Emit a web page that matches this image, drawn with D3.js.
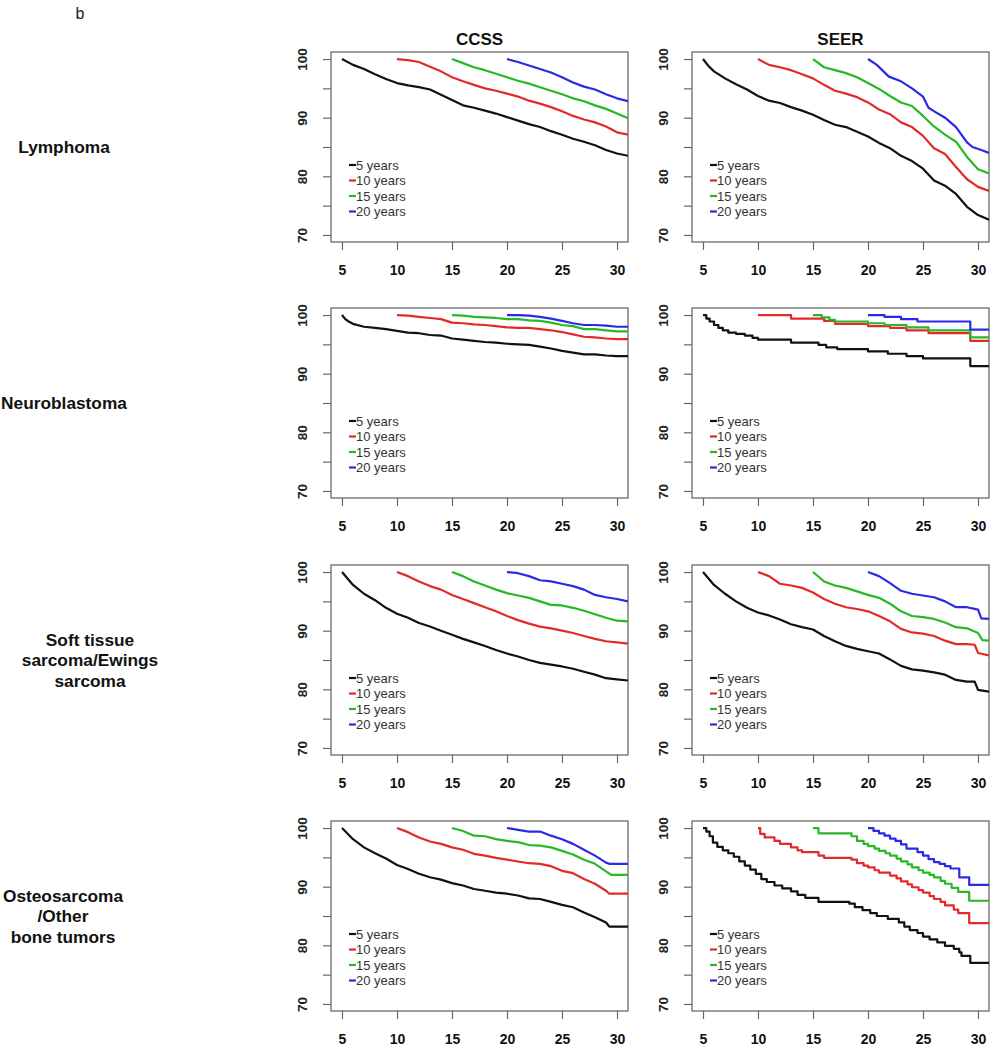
<!DOCTYPE html>
<html><head><meta charset="utf-8">
<script src="https://cdn.jsdelivr.net/npm/d3@7"></script>
<style>body{margin:0;background:#fff}svg{display:block}</style>
</head><body>
<script>
// ---------- data ----------
const panelLetter = "b";
const colTitles = ["CCSS", "SEER"];
const rowLabels = [["Lymphoma"], ["Neuroblastoma"], ["Soft tissue", "sarcoma/Ewings", "sarcoma"], ["Osteosarcoma", "/Other", "bone tumors"]];
const seriesNames = ["5 years", "10 years", "15 years", "20 years"];
const seriesColors = ["#111111", "#e32a2a", "#26b826", "#2a2ae6"];
const xTicks = [5, 10, 15, 20, 25, 30];
const yTicks = [70, 75, 80, 85, 90, 95, 100];
const yTickLabels = [70, 80, 90, 100];

const lymCCSS = [
 [[5,100],[6,99.0],[7,98.3],[8,97.4],[9,96.6],[10,95.9],[11,95.5],[12,95.2],[13,94.8],[14,93.9],[15,93.0],[16,92.1],[17,91.7],[18,91.2],[19,90.7],[20,90.1],[21,89.5],[22,88.9],[23,88.4],[24,87.7],[25,87.1],[26,86.4],[27,85.9],[28,85.3],[29,84.5],[30,83.9],[31,83.5]],
 [[10,100],[11,99.8],[12,99.5],[13,98.7],[14,97.9],[15,96.9],[16,96.2],[17,95.6],[18,95.0],[19,94.6],[20,94.1],[21,93.6],[22,92.9],[23,92.4],[24,91.8],[25,91.1],[26,90.3],[27,89.7],[28,89.2],[29,88.5],[30,87.5],[31,87.1]],
 [[15,100],[16,99.3],[17,98.6],[18,98.1],[19,97.5],[20,96.9],[21,96.3],[22,95.8],[23,95.2],[24,94.6],[25,94.0],[26,93.3],[27,92.8],[28,92.1],[29,91.5],[30,90.7],[31,89.9]],
 [[20,100],[21,99.5],[22,98.9],[23,98.3],[24,97.7],[25,96.9],[26,96.0],[27,95.3],[28,94.8],[29,94.0],[30,93.3],[31,92.8]]
];
const lymSEER = [
 [[5,100],[5.5,98.8],[6,97.9],[7,96.7],[8,95.7],[9,94.8],[10,93.7],[11,92.9],[12,92.5],[13,91.8],[14,91.2],[15,90.5],[16,89.6],[17,88.8],[18,88.4],[19,87.6],[20,86.8],[21,85.7],[22,84.8],[23,83.5],[24,82.6],[25,81.3],[26,79.3],[27,78.4],[28,77.0],[29,74.8],[30,73.4],[31,72.6]],
 [[10,100],[11,99.0],[12,98.6],[13,98.1],[14,97.4],[15,96.7],[16,95.6],[17,94.6],[18,94.1],[19,93.5],[20,92.6],[21,91.4],[22,90.6],[23,89.2],[24,88.4],[25,86.9],[26,84.8],[27,83.8],[28,81.6],[29,79.5],[30,78.2],[31,77.5]],
 [[15,100],[16,98.6],[17,98.1],[18,97.6],[19,96.9],[20,95.9],[21,94.9],[22,93.7],[23,92.6],[24,92.0],[25,90.3],[26,88.5],[27,87.1],[28,85.9],[29,83.3],[30,81.2],[31,80.5]],
 [[20,100],[20.8,99.0],[21.9,97.0],[23,96.2],[24,95.0],[25,93.6],[25.5,91.7],[26.1,91.0],[27,90.0],[28,88.4],[29,85.8],[29.5,85.0],[30.3,84.5],[31,84.0]]
];
const neuCCSS = [
 [[5,100],[5.3,99.3],[5.6,98.9],[6,98.5],[7,98.0],[8,97.8],[9,97.6],[10,97.3],[11,97.0],[12,96.9],[13,96.6],[14,96.5],[15,96.0],[16,95.8],[17,95.6],[18,95.4],[19,95.3],[20,95.1],[21,95.0],[22,94.9],[23,94.6],[24,94.3],[25,93.9],[26,93.6],[27,93.3],[28,93.3],[29,93.1],[30,93.0],[31,93.0]],
 [[10,100],[11,99.9],[12,99.7],[13,99.5],[14,99.3],[15,98.7],[16,98.6],[17,98.4],[18,98.3],[19,98.1],[20,97.9],[21,97.8],[22,97.8],[23,97.6],[24,97.4],[25,97.1],[26,96.7],[27,96.3],[28,96.2],[29,96.0],[30,95.9],[31,95.9]],
 [[15,100],[16,99.9],[17,99.7],[18,99.6],[19,99.5],[20,99.3],[21,99.3],[22,99.1],[23,99.0],[24,98.7],[25,98.3],[26,98.1],[27,97.6],[28,97.6],[29,97.4],[30,97.2],[31,97.2]],
 [[20,100],[21,100],[22,99.9],[23,99.7],[24,99.4],[25,99.0],[26,98.6],[27,98.3],[28,98.3],[29,98.2],[30,98.0],[31,98.0]]
];
const neuSEER = [
 [[5,100],[5.3,99.4],[5.6,98.9],[6,98.3],[6.4,97.8],[6.8,97.4],[7.3,97.0],[8,96.8],[8.8,96.5],[9.5,96.1],[10,95.8],[13,95.3],[15.5,94.9],[16.2,94.5],[17.2,94.2],[20,93.8],[21.8,93.4],[23.5,93.0],[25,92.6],[29.3,91.3],[31,91.3]],
 [[10,100],[13,99.4],[16,99.0],[17,98.5],[20,98.1],[22,97.8],[23.5,97.4],[25.5,96.9],[29.3,95.6],[31,95.6]],
 [[15,100],[15.8,99.6],[16.5,99.2],[17,98.9],[20,98.6],[21.5,98.3],[23.5,97.9],[25.5,97.4],[29.3,96.2],[31,96.2]],
 [[20,100],[21.5,99.7],[23,99.3],[24.5,98.9],[29.3,97.5],[31,97.5]]
];
const stsCCSS = [
 [[5,100],[6,97.8],[7,96.3],[8,95.2],[9,93.9],[10,92.9],[11,92.2],[12,91.3],[13,90.7],[14,90.0],[15,89.3],[16,88.6],[17,88.0],[18,87.4],[19,86.7],[20,86.1],[21,85.6],[22,85.0],[23,84.5],[24,84.2],[25,83.9],[26,83.5],[27,83.0],[28,82.5],[29,81.9],[30,81.7],[31,81.5]],
 [[10,100],[11,99.3],[12,98.4],[13,97.6],[14,97.0],[15,96.1],[16,95.4],[17,94.7],[18,94.0],[19,93.3],[20,92.5],[21,91.8],[22,91.2],[23,90.7],[24,90.4],[25,90.0],[26,89.6],[27,89.1],[28,88.6],[29,88.2],[30,88.0],[31,87.8]],
 [[15,100],[16,99.3],[17,98.4],[18,97.7],[19,97.0],[20,96.4],[21,96.0],[22,95.6],[23,95.0],[24,94.4],[25,94.3],[26,93.9],[27,93.4],[28,92.8],[29,92.2],[30,91.7],[31,91.6]],
 [[20,100],[21,99.8],[22,99.3],[23,98.6],[24,98.4],[25,98.0],[26,97.6],[27,97.0],[28,96.1],[29,95.7],[30,95.4],[31,95.0]]
];
const stsSEER = [
 [[5,100],[6,97.8],[7,96.3],[8,95.0],[9,93.9],[10,93.1],[11,92.6],[12,91.9],[13,91.1],[14,90.6],[15,90.2],[16,89.1],[17,88.2],[18,87.4],[19,86.9],[20,86.5],[21,86.1],[22,85.1],[23,84.0],[24,83.4],[25,83.2],[26,82.9],[27,82.5],[28,81.6],[29,81.3],[29.7,81.3],[30,79.9],[31,79.6]],
 [[10,100],[11,99.3],[12,98.0],[13,97.7],[14,97.3],[15,96.5],[16,95.4],[17,94.6],[18,94.0],[19,93.7],[20,93.3],[21,92.5],[22,91.6],[23,90.3],[24,89.7],[25,89.5],[26,89.1],[27,88.3],[28,87.7],[29,87.7],[29.7,87.6],[30,86.2],[31,85.8]],
 [[15,100],[16,98.4],[17,97.7],[18,97.3],[19,96.7],[20,96.1],[21,95.6],[22,94.6],[23,93.3],[24,92.5],[25,92.3],[26,92.0],[27,91.4],[28,90.6],[29,90.4],[30,89.6],[30.4,88.4],[31,88.3]],
 [[20,100],[21,99.3],[22,98.1],[23,96.8],[24,96.3],[25,96.0],[26,95.7],[27,95.0],[28,94.0],[29,94.0],[30,93.6],[30.3,92.1],[31,92.0]]
];
const ostCCSS = [
 [[5,100],[6,98.1],[7,96.7],[8,95.7],[9,94.8],[10,93.7],[11,93.0],[12,92.2],[13,91.6],[14,91.2],[15,90.6],[16,90.2],[17,89.6],[18,89.3],[19,89.0],[20,88.8],[21,88.5],[22,88.0],[23,87.9],[24,87.4],[25,86.9],[26,86.5],[27,85.6],[28,84.8],[29,83.9],[29.3,83.2],[31,83.2]],
 [[10,100],[11,99.3],[12,98.4],[13,97.7],[14,97.3],[15,96.7],[16,96.3],[17,95.6],[18,95.3],[19,94.9],[20,94.6],[21,94.3],[22,94.0],[23,93.9],[24,93.5],[25,92.7],[26,92.3],[27,91.3],[28,90.5],[29,89.3],[29.3,88.8],[31,88.8]],
 [[15,100],[16,99.5],[17,98.7],[18,98.6],[19,98.1],[20,97.8],[21,97.6],[22,97.1],[23,97.0],[24,96.7],[25,96.1],[26,95.5],[27,94.6],[28,93.9],[29,92.6],[29.5,92.0],[31,92.0]],
 [[20,100],[21,99.7],[22,99.4],[23,99.4],[24,98.7],[25,98.1],[26,97.3],[27,96.3],[28,95.3],[29,94.1],[29.3,93.9],[31,93.9]]
];
const ostSEER = [
 [[5,100],[5.3,99.4],[5.6,98.6],[5.9,97.5],[6.3,96.8],[6.8,96.2],[7.3,95.7],[7.8,95.1],[8.3,94.3],[8.8,93.6],[9.3,92.9],[9.8,92.2],[10.3,91.3],[10.8,90.8],[11.5,90.2],[12.2,89.7],[13,89.2],[13.6,88.6],[14.3,88.1],[15.5,87.4],[18.3,87.1],[18.8,86.5],[19.5,86.0],[20.2,85.5],[20.8,85.0],[21.8,84.5],[22.8,83.9],[23.3,83.2],[23.8,82.6],[24.5,82.1],[25,81.5],[25.6,81.0],[26.3,80.5],[27,79.9],[27.8,79.4],[28.3,78.8],[28.5,78.2],[29.3,77.0],[31,77.0]],
 [[10,100],[10.2,99.0],[10.6,98.4],[11.5,97.8],[12,97.3],[13,96.7],[13.6,96.2],[14,95.9],[15.5,95.3],[16,94.9],[18.5,94.6],[19,94.0],[19.6,93.6],[20,93.3],[20.6,92.8],[21,92.4],[22,91.9],[22.6,91.4],[23,90.9],[23.6,90.4],[24,89.9],[24.6,89.4],[25,89.0],[25.6,88.4],[26,87.9],[26.6,87.4],[27,86.8],[27.8,86.1],[28.2,85.5],[29.2,83.8],[31,83.8]],
 [[15,100],[15.5,99.1],[18.5,98.6],[19,97.8],[19.6,97.3],[20,96.9],[20.6,96.5],[21,96.1],[21.6,95.7],[22,95.3],[22.6,94.8],[23,94.3],[23.6,93.8],[24,93.3],[24.6,92.8],[25,92.4],[25.6,92.0],[26,91.6],[26.6,91.0],[27,90.5],[27.6,89.8],[28.2,89.1],[29.2,87.6],[31,87.6]],
 [[20,100],[20.5,99.5],[21,99.1],[21.5,98.7],[22,98.2],[22.5,97.8],[23,97.2],[23.5,96.5],[24.5,95.9],[25,95.3],[25.5,94.7],[26,94.2],[26.5,93.9],[27,93.5],[27.5,93.1],[28.3,91.6],[29.2,90.3],[31,90.3]]
];
const panelData = [[lymCCSS, lymSEER], [neuCCSS, neuSEER], [stsCCSS, stsSEER], [ostCCSS, ostSEER]];
const stepPanels = [[false, false], [false, true], [false, false], [false, true]];

// ---------- layout ----------
const W = 1000, H = 1050;
const colLeft = [331, 692], boxW = 297;
const rowTop = [52, 308, 565, 821], boxH = 190;
const labelCenter = [64, 64, 90, 63];
const FONT = "Liberation Sans, Arial, Helvetica, sans-serif";

const svg = d3.select("body").append("svg").attr("width", W).attr("height", H)
  .style("font-family", FONT);

svg.append("text").attr("x", 80).attr("y", 19).attr("text-anchor", "middle")
  .style("font-size", "16px").attr("fill", "#222").text(panelLetter);

colTitles.forEach((t, c) => {
  svg.append("text").attr("x", colLeft[c] + boxW / 2).attr("y", 45).attr("text-anchor", "middle")
    .style("font-size", "17px").style("font-weight", "bold").attr("fill", "#111").text(t);
});

rowLabels.forEach((lines, r) => {
  const cy = rowTop[r] + boxH / 2;
  const lh = 20.5;
  const t = svg.append("text").attr("text-anchor", "middle")
    .style("font-size", "17.3px").style("font-weight", "bold").attr("fill", "#111");
  lines.forEach((ln, i) => {
    t.append("tspan").attr("x", labelCenter[r])
      .attr("y", cy + (i - (lines.length - 1) / 2) * lh + 6).text(ln);
  });
});

const defs = svg.append("defs");

panelData.forEach((row, r) => {
  row.forEach((series, c) => {
    const left = colLeft[c], top = rowTop[r];
    const x = d3.scaleLinear().domain([4, 31]).range([left, left + boxW]);
    const y = d3.scaleLinear().domain([68.8, 101.2]).range([top + boxH, top]);
    const g = svg.append("g");
    const clipId = `clip-${r}-${c}`;
    defs.append("clipPath").attr("id", clipId).append("rect")
      .attr("x", left).attr("y", top).attr("width", boxW).attr("height", boxH);

    // x axis
    const xa = g.append("g").attr("transform", `translate(0,${top + boxH})`)
      .call(d3.axisBottom(x).tickValues(xTicks).tickSize(8).tickPadding(15).tickFormat(d3.format("d")));
    xa.select(".domain").remove();
    xa.selectAll("line").attr("stroke", "#666").attr("stroke-width", 1.2);
    xa.selectAll("text").style("font-size", "14px").style("font-weight", "bold")
      .style("font-family", FONT).attr("fill", "#111");

    // y axis
    const ya = g.append("g").attr("transform", `translate(${left},0)`)
      .call(d3.axisLeft(y).tickValues(yTicks).tickSize(8).tickFormat(d => yTickLabels.includes(d) ? d : ""));
    ya.select(".domain").remove();
    ya.selectAll("line").attr("stroke", "#666").attr("stroke-width", 1.2);
    ya.selectAll("text").attr("x", null).attr("dy", null)
      .attr("transform", "translate(-29,0) rotate(-90)")
      .attr("text-anchor", "middle").attr("dominant-baseline", "central")
      .style("font-size", "13.5px").style("font-weight", "bold")
      .style("font-family", FONT).attr("fill", "#222");

    // box
    g.append("rect").attr("x", left).attr("y", top).attr("width", boxW).attr("height", boxH)
      .attr("fill", "none").attr("stroke", "#6b6b6b").attr("stroke-width", 1.3);

    const line = d3.line().x(d => x(d[0])).y(d => y(d[1]))
      .curve(stepPanels[r][c] ? d3.curveStepAfter : d3.curveLinear);
    const lg = g.append("g").attr("clip-path", `url(#${clipId})`);
    series.forEach((s, i) => {
      lg.append("path").datum(s).attr("d", line).attr("fill", "none")
        .attr("stroke", seriesColors[i]).attr("stroke-width", 2.2)
        .attr("stroke-linejoin", "round");
    });

    // legend
    seriesNames.forEach((n, i) => {
      const ly = top + 113 + i * 15.5;
      g.append("line").attr("x1", left + 18).attr("x2", left + 25).attr("y1", ly).attr("y2", ly)
        .attr("stroke", seriesColors[i]).attr("stroke-width", 2.2);
      g.append("text").attr("x", left + 25).attr("y", ly).attr("dominant-baseline", "central")
        .style("font-size", "13px").attr("fill", "#333").text(n);
    });
  });
});
</script>
</body></html>
